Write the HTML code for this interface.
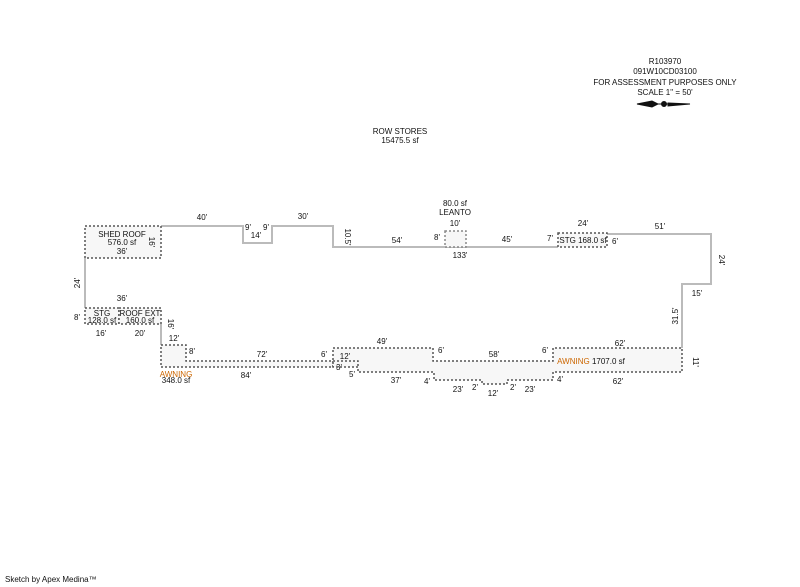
<!DOCTYPE html>
<html><head><meta charset="utf-8"><style>
html,body{margin:0;padding:0;background:#fff;}
svg{display:block;font-family:"Liberation Sans",Arial,sans-serif;}
text{font-size:8px;fill:#111;}
</style></head><body>
<svg width="800" height="587" viewBox="0 0 800 587" xmlns="http://www.w3.org/2000/svg">
<!-- main outline -->
<polyline points="161,226 243,226 243,243 272,243 272,226 333,226 333,247 445,247 466,247 558,247" fill="none" stroke="#bbb" stroke-width="2"/>
<polyline points="607,234 711,234 711,284 682,284 682,348" fill="none" stroke="#bbb" stroke-width="2"/>
<line x1="85" y1="258" x2="85" y2="308" stroke="#bbb" stroke-width="2"/>
<line x1="161" y1="324" x2="161" y2="345" stroke="#bbb" stroke-width="2"/>
<g fill="#f7f7f7" stroke="#555" stroke-width="1.5" stroke-dasharray="2,2">
<rect x="85" y="226" width="76" height="32"/>
<rect x="85" y="308" width="34" height="16"/>
<rect x="119" y="308" width="42" height="16"/>
<rect x="445" y="231" width="21" height="16" stroke="#888"/>
<rect x="558" y="233" width="49" height="14"/>
<polygon points="161,345 186,345 186,361 333,361 333,367 161,367"/>
<polygon points="333,348 433,348 433,361 553,361 553,348 682,348 682,372 553,372 553,380 507,380 507,384 482,384 482,380 434,380 434,372 358,372 358,367 333,367 333,361"/>
<polyline points="333,361 358,361 358,367" fill="none"/>
</g>
<!-- header -->
<g text-anchor="middle">
<text x="665" y="64">R103970</text>
<text x="665" y="74">091W10CD03100</text>
<text x="665" y="85">FOR ASSESSMENT PURPOSES ONLY</text>
<text x="665" y="95">SCALE 1" = 50'</text>
<text x="400" y="134">ROW STORES</text>
<text x="400" y="143">15475.5 sf</text>
<text x="455" y="206">80.0 sf</text>
<text x="455" y="215">LEANTO</text>
</g>
<g stroke="#111" fill="#111">
<polygon points="637,104 652,101 658,104 652,107"/>
<circle cx="664" cy="104" r="2.5"/>
<polygon points="668,103 690,104 668,106"/>
<line x1="650" y1="104" x2="680" y2="104" stroke-width="1"/>
</g>
<!-- labels -->
<g text-anchor="middle">
<text x="122" y="237">SHED ROOF</text>
<text x="122" y="245">576.0 sf</text>
<text x="122" y="254">36'</text>
<text x="202" y="220">40'</text>
<text x="248" y="230">9'</text>
<text x="266" y="230">9'</text>
<text x="256" y="238">14'</text>
<text x="303" y="219">30'</text>
<text x="397" y="243">54'</text>
<text x="437" y="240">8'</text>
<text x="455" y="226">10'</text>
<text x="460" y="258">133'</text>
<text x="507" y="242">45'</text>
<text x="550" y="241">7'</text>
<text x="583" y="226">24'</text>
<text x="583" y="243">STG 168.0 sf</text>
<text x="615" y="244">6'</text>
<text x="660" y="229">51'</text>
<text x="697" y="296">15'</text>
<text x="122" y="301">36'</text>
<text x="77" y="320">8'</text>
<text x="102" y="316">STG</text>
<text x="102" y="323">128.0 sf</text>
<text x="140" y="316">ROOF EXT</text>
<text x="140" y="323">160.0 sf</text>
<text x="101" y="336">16'</text>
<text x="140" y="336">20'</text>
<text x="174" y="341">12'</text>
<text x="192" y="354">8'</text>
<text x="262" y="357">72'</text>
<text x="324" y="357">6'</text>
<text x="345" y="359">12'</text>
<text x="339" y="370">3'</text>
<text x="352" y="377">5'</text>
<text x="176" y="377" style="fill:#c60">AWNING</text>
<text x="176" y="383">348.0 sf</text>
<text x="246" y="378">84'</text>
<text x="382" y="344">49'</text>
<text x="441" y="353">6'</text>
<text x="494" y="357">58'</text>
<text x="545" y="353">6'</text>
<text x="620" y="346">62'</text>
<text x="591" y="364"><tspan style="fill:#c60">AWNING</tspan> 1707.0 sf</text>
<text x="396" y="383">37'</text>
<text x="427" y="384">4'</text>
<text x="458" y="392">23'</text>
<text x="475" y="390">2'</text>
<text x="493" y="396">12'</text>
<text x="513" y="390">2'</text>
<text x="530" y="392">23'</text>
<text x="560" y="382">4'</text>
<text x="618" y="384">62'</text>
</g>
<g text-anchor="middle">
<text transform="translate(149,242) rotate(90)">16'</text>
<text transform="translate(168,324) rotate(90)">16'</text>
<text transform="translate(345,237) rotate(90)">10.5'</text>
<text transform="translate(719,260) rotate(90)">24'</text>
<text transform="translate(693,362) rotate(90)">11'</text>
<text transform="translate(80,283) rotate(-90)">24'</text>
<text transform="translate(678,316) rotate(-90)">31.5'</text>
</g>
<text x="5" y="582">Sketch by Apex Medina™</text>
</svg>
</body></html>
